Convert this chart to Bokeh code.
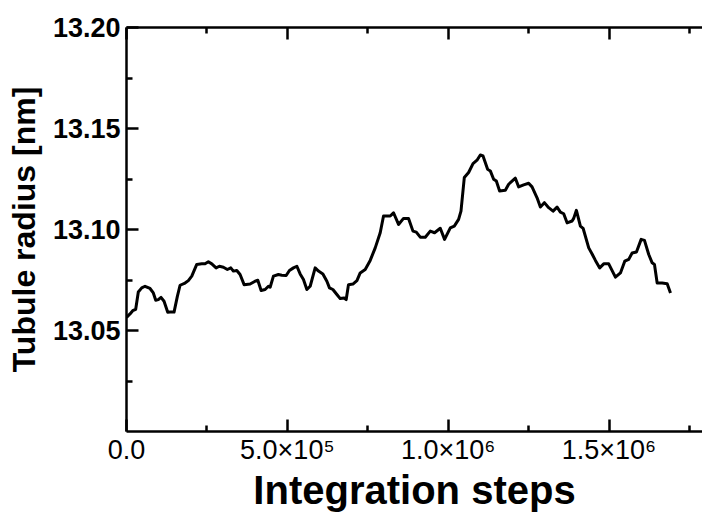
from bokeh.plotting import figure
from bokeh.models import Range1d, LinearAxis, FixedTicker
from bokeh.embed import file_html
from bokeh.resources import INLINE

# ---- data ----
steps = [0, 10.9e3, 19.3e3, 28.6e3, 36.7e3, 47.3e3, 57.6e3, 73.1e3, 83.4e3, 90.9e3,
         98.9e3, 107.3e3, 116.7e3, 128.2e3, 135.3e3, 147.8e3, 158.1e3, 166.5e3, 182.0e3, 192.3e3,
         202.9e3, 218.4e3, 234.0e3, 244.2e3, 254.5e3, 265.1e3, 278.5e3, 288.7e3, 301.2e3, 313.6e3,
         324.2e3, 332.3e3, 342.9e3, 353.1e3, 365.6e3, 384.3e3, 399.8e3, 408.2e3, 418.5e3, 430.9e3,
         441.2e3, 446.5e3, 456.8e3, 472.3e3, 482.9e3, 496.3e3, 506.5e3, 519.0e3, 529.6e3, 539.8e3,
         550.1e3, 560.7e3, 571.0e3, 586.5e3, 596.8e3, 610.5e3, 622.9e3, 631.0e3, 641.6e3, 654.0e3,
         664.3e3, 676.7e3, 683.0e3, 690.1e3, 703.8e3, 716.3e3, 726.5e3, 742.1e3, 757.6e3, 773.2e3,
         788.7e3, 799.0e3, 819.9e3, 830.1e3, 845.7e3, 861.2e3, 876.8e3, 890.5e3, 900.8e3, 913.2e3,
         928.8e3, 944.3e3, 957.7e3, 975.4e3, 988.8e3, 1006.6e3, 1019.0e3, 1032.4e3, 1039.8e3, 1050.1e3,
         1063.5e3, 1077.2e3, 1089.6e3, 1099.9e3, 1108.3e3, 1122.6e3, 1131.0e3, 1141.3e3, 1149.7e3, 1159.9e3,
         1177.7e3, 1188.0e3, 1208.8e3, 1219.1e3, 1234.6e3, 1250.2e3, 1260.7e3, 1276.3e3, 1286.6e3, 1299.0e3,
         1312.4e3, 1326.1e3, 1338.5e3, 1348.8e3, 1359.1e3, 1369.6e3, 1385.2e3, 1390.2e3, 1398.6e3, 1411.0e3,
         1419.4e3, 1436.9e3, 1447.4e3, 1457.7e3, 1471.1e3, 1483.5e3, 1499.1e3, 1519.9e3, 1535.5e3, 1548.9e3,
         1561.3e3, 1571.9e3, 1585.3e3, 1599.9e3, 1610.2e3, 1623.5e3, 1634.1e3, 1641.3e3, 1649.7e3, 1665.2e3,
         1680.8e3, 1691.1e3]

radius = [13.0565, 13.0582, 13.0598, 13.0605, 13.0691, 13.0711, 13.0719, 13.0708, 13.0686, 13.0650,
          13.0653, 13.0664, 13.0645, 13.0590, 13.0591, 13.0591, 13.0669, 13.0724, 13.0735, 13.0747,
          13.0769, 13.0827, 13.0830, 13.0830, 13.0840, 13.0830, 13.0810, 13.0818, 13.0813, 13.0802,
          13.0810, 13.0794, 13.0797, 13.0777, 13.0727, 13.0730, 13.0744, 13.0749, 13.0698, 13.0703,
          13.0719, 13.0714, 13.0769, 13.0777, 13.0774, 13.0772, 13.0797, 13.0810, 13.0818, 13.0780,
          13.0752, 13.0703, 13.0719, 13.0810, 13.0794, 13.0780, 13.0744, 13.0711, 13.0703, 13.0678,
          13.0658, 13.0661, 13.0653, 13.0727, 13.0730, 13.0747, 13.0785, 13.0802, 13.0847, 13.0909,
          13.0984, 13.1067, 13.1067, 13.1083, 13.1025, 13.1055, 13.1055, 13.0992, 13.0987, 13.0962,
          13.0962, 13.0992, 13.0984, 13.1006, 13.0951, 13.1008, 13.1017, 13.1050, 13.1091, 13.1257,
          13.1282, 13.1326, 13.1343, 13.1369, 13.1364, 13.1298, 13.1290, 13.1249, 13.1240, 13.1191,
          13.1194, 13.1224, 13.1254, 13.1211, 13.1221, 13.1229, 13.1211, 13.1157, 13.1111, 13.1133,
          13.1108, 13.1091, 13.1111, 13.1086, 13.1078, 13.1033, 13.1042, 13.1055, 13.1095, 13.1017,
          13.1006, 13.0909, 13.0879, 13.0847, 13.0810, 13.0830, 13.0830, 13.0764, 13.0785, 13.0843,
          13.0852, 13.0884, 13.0889, 13.0951, 13.0946, 13.0876, 13.0835, 13.0827, 13.0735, 13.0735,
          13.0732, 13.0686]

x_ticks = [0, 500000, 1000000, 1500000]
x_minor_ticks = [250000, 750000, 1250000, 1750000]
x_tick_labels = ["0.0", "5.0\u00d710\u2075", "1.0\u00d710\u2076", "1.5\u00d710\u2076"]
y_ticks = [13.05, 13.10, 13.15, 13.20]
y_minor_ticks = [13.025, 13.075, 13.125, 13.175]
y_tick_labels = ["13.05", "13.10", "13.15", "13.20"]
x_title = "Integration steps"
y_title = "Tubule radius [nm]"

FONT = "Liberation Sans"

p = figure(width=702, height=514, output_backend="svg", toolbar_location=None,
           x_range=Range1d(0, 1.7906e6), y_range=Range1d(13.0, 13.2),
           x_axis_location=None, y_axis_location=None,
           min_border_left=126, min_border_top=27, min_border_right=0, min_border_bottom=10)
p.grid.visible = False
p.outline_line_color = None
p.background_fill_color = "white"
p.border_fill_color = "white"

def style(ax):
    ax.axis_line_width = 2.5
    ax.axis_line_color = "black"
    ax.major_tick_in = 12
    ax.major_tick_out = 0
    ax.minor_tick_in = 6
    ax.minor_tick_out = 0
    ax.major_tick_line_width = 2.5
    ax.minor_tick_line_width = 2.5
    ax.major_tick_line_color = "black"
    ax.minor_tick_line_color = "black"

# left axis
yax = LinearAxis(ticker=FixedTicker(ticks=y_ticks, minor_ticks=y_minor_ticks))
style(yax)
yax.major_label_overrides = {t: l for t, l in zip(y_ticks, y_tick_labels)}
yax.major_label_text_font = FONT
yax.major_label_text_font_style = "bold"
yax.major_label_text_font_size = "27px"
yax.major_label_text_color = "black"
yax.major_label_standoff = 6
yax.axis_label = y_title
yax.axis_label_text_font = FONT
yax.axis_label_text_font_style = "bold"
yax.axis_label_text_font_size = "32px"
yax.axis_label_text_color = "black"
yax.axis_label_standoff = 8
p.add_layout(yax, "left")

# bottom axis
xax = LinearAxis(ticker=FixedTicker(ticks=x_ticks, minor_ticks=x_minor_ticks))
style(xax)
xax.major_label_overrides = {t: l for t, l in zip(x_ticks, x_tick_labels)}
xax.major_label_text_font = FONT
xax.major_label_text_font_style = "normal"
xax.major_label_text_font_size = "27px"
xax.major_label_text_color = "black"
xax.major_label_standoff = 3
xax.axis_label = x_title
xax.axis_label_text_font = FONT
xax.axis_label_text_font_style = "bold"
xax.axis_label_text_font_size = "40px"
xax.axis_label_text_color = "black"
xax.axis_label_standoff = 0
p.add_layout(xax, "below")

# top axis (ticks only, no labels)
tax = LinearAxis(ticker=FixedTicker(ticks=x_ticks, minor_ticks=x_minor_ticks))
style(tax)
tax.major_label_overrides = {t: "" for t in x_ticks}
tax.major_label_text_color = None
tax.major_label_standoff = 0
p.add_layout(tax, "above")

p.line(steps, radius, line_color="black", line_width=3, line_join="round")

open("out.html", "w").write(file_html(p, INLINE))
